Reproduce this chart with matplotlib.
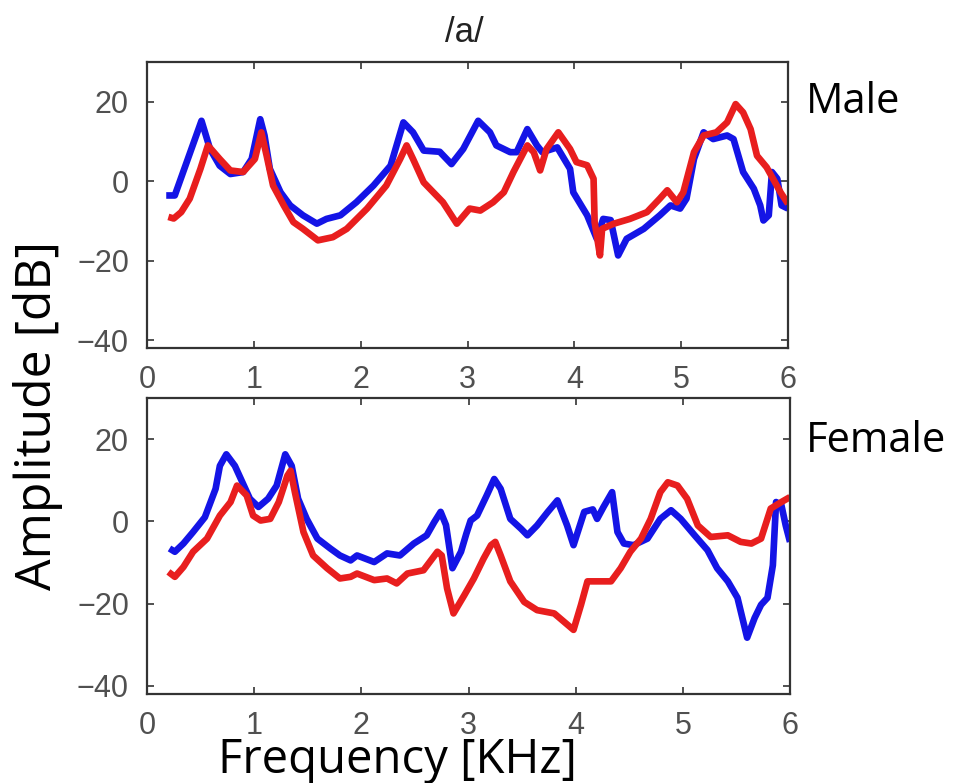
import matplotlib
matplotlib.use("Agg")
import matplotlib.pyplot as plt

# ---- data ----
male_blue_f = [0.18, 0.26, 0.51, 0.59, 0.68, 0.78, 0.90, 0.98, 1.06, 1.10, 1.15, 1.25, 1.34, 1.46, 1.59,
               1.68, 1.81, 1.96, 2.12, 2.28, 2.40, 2.49, 2.59, 2.74, 2.85, 2.96, 3.10, 3.21, 3.27, 3.40,
               3.46, 3.56, 3.65, 3.70, 3.84, 3.96, 3.99, 4.12, 4.21, 4.27, 4.34, 4.41, 4.49, 4.65, 4.80,
               4.90, 4.99, 5.05, 5.12, 5.21, 5.30, 5.43, 5.49, 5.58, 5.68, 5.74, 5.77, 5.82, 5.85, 5.90,
               5.94, 6.00]
male_blue_a = [-3.6, -3.6, 15.2, 8.1, 3.9, 1.8, 2.3, 5.6, 15.6, 11.5, 3.1, -2.8, -6.1, -8.6, -10.7,
               -9.5, -8.6, -5.3, -1.1, 3.9, 14.8, 12.3, 7.7, 7.4, 4.3, 8.1, 15.2, 12.3, 9.0, 7.3,
               7.3, 13.1, 9.0, 7.3, 8.5, 3.1, -2.8, -8.6, -14.5, -9.5, -9.8, -18.7, -14.5, -12.0, -8.6,
               -6.1, -6.9, -4.4, 5.6, 12.3, 10.6, 11.5, 10.6, 2.3, -1.9, -6.1, -9.9, -8.6, 2.3, 0.6,
               -6.1, -6.9]

male_red_f = [0.20, 0.25, 0.32, 0.40, 0.50, 0.57, 0.68, 0.78, 0.90, 1.01, 1.07, 1.12, 1.18, 1.28, 1.37,
              1.46, 1.60, 1.74, 1.87, 2.06, 2.24, 2.37, 2.43, 2.49, 2.59, 2.68, 2.77, 2.90, 3.02, 3.12,
              3.24, 3.34, 3.43, 3.56, 3.62, 3.68, 3.74, 3.85, 3.96, 4.02, 4.12, 4.18, 4.19, 4.24, 4.26,
              4.37, 4.52, 4.68, 4.80, 4.87, 4.96, 5.02, 5.12, 5.21, 5.33, 5.43, 5.51, 5.58, 5.65, 5.71,
              5.80, 5.86, 5.93, 6.00]
male_red_a = [-9.0, -9.4, -7.8, -4.4, 3.1, 9.0, 5.6, 2.7, 2.3, 5.6, 12.3, 6.4, -1.1, -6.1, -10.3,
              -12.0, -14.9, -14.1, -12.0, -6.9, -1.1, 5.6, 9.0, 5.6, -0.3, -2.8, -5.3, -10.7, -6.9, -7.4,
              -5.3, -2.8, 2.3, 9.0, 7.3, 2.7, 8.1, 12.3, 8.1, 4.8, 4.0, 0.6, -10.3, -18.7, -12.0,
              -10.7, -9.5, -7.8, -4.4, -2.3, -5.3, -2.8, 7.3, 11.5, 12.3, 14.8, 19.4, 17.3, 13.1, 6.4,
              3.5, 0.6, -2.8, -5.7]

female_blue_f = [0.21, 0.26, 0.34, 0.43, 0.54, 0.64, 0.68, 0.74, 0.82, 0.89, 0.96, 1.04, 1.13, 1.21, 1.29,
                 1.35, 1.41, 1.49, 1.59, 1.71, 1.80, 1.90, 1.96, 2.12, 2.24, 2.36, 2.49, 2.61, 2.68, 2.74,
                 2.79, 2.85, 2.93, 2.98, 3.02, 3.08, 3.17, 3.24, 3.30, 3.39, 3.49, 3.55, 3.64, 3.74, 3.83,
                 3.92, 3.98, 4.08, 4.16, 4.20, 4.26, 4.34, 4.39, 4.45, 4.54, 4.67, 4.79, 4.89, 4.98, 5.11,
                 5.23, 5.32, 5.42, 5.51, 5.60, 5.67, 5.73, 5.79, 5.84, 5.87, 5.92, 5.96, 6.00]
female_blue_a = [-6.6, -7.4, -5.4, -2.6, 1.0, 7.9, 13.5, 16.3, 13.5, 9.5, 5.5, 3.5, 5.5, 8.7, 16.3,
                 13.5, 5.5, 0.6, -4.2, -6.6, -8.3, -9.5, -8.3, -9.9, -7.8, -8.3, -5.4, -3.4, -0.2, 2.3,
                 -0.9, -11.4, -7.4, -3.0, 0.2, 1.4, 6.3, 10.3, 7.9, 0.6, -1.8, -3.4, -1.0, 2.3, 5.1,
                 -1.0, -5.8, 2.3, 2.9, 0.6, 3.5, 7.1, -2.6, -5.4, -5.8, -4.2, 0.6, 2.7, 0.6, -3.4,
                 -7.0, -11.4, -14.6, -18.6, -28.3, -23.5, -20.3, -18.6, -10.7, 4.7, 3.9, -1.0, -5.0]

female_red_f = [0.20, 0.26, 0.34, 0.43, 0.56, 0.68, 0.78, 0.84, 0.93, 0.99, 1.06, 1.15, 1.23, 1.31, 1.34,
                1.38, 1.46, 1.55, 1.68, 1.80, 1.90, 1.96, 2.12, 2.24, 2.33, 2.43, 2.58, 2.71, 2.75, 2.80,
                2.86, 2.96, 3.05, 3.14, 3.21, 3.25, 3.30, 3.39, 3.52, 3.64, 3.80, 3.89, 3.98, 4.05, 4.11,
                4.23, 4.33, 4.42, 4.51, 4.61, 4.70, 4.79, 4.86, 4.95, 5.04, 5.14, 5.26, 5.42, 5.54, 5.64,
                5.73, 5.82, 5.92, 6.00]
female_red_a = [-12.3, -13.5, -11.1, -7.4, -4.2, 1.4, 4.7, 8.7, 6.3, 1.4, 0.2, 0.6, 4.7, 11.1, 12.3,
                7.1, -2.6, -8.3, -11.4, -13.9, -13.5, -12.7, -14.3, -13.9, -15.1, -12.7, -11.9, -7.4, -8.3, -16.3,
                -22.4, -18.0, -13.9, -9.1, -5.8, -5.0, -8.3, -14.6, -19.6, -21.6, -22.4, -24.4, -26.4, -20.3, -14.6,
                -14.6, -14.6, -11.4, -7.4, -4.2, 0.6, 7.1, 9.5, 8.7, 5.5, -1.0, -3.8, -3.4, -5.0, -5.4,
                -4.2, 3.1, 4.7, 5.9]

x_ticks = [0, 1, 2, 3, 4, 5, 6]
y_ticks = [-40, -20, 0, 20]
title_text = "/a/"
panel_labels = ["Male", "Female"]

BLUE = "#1414e6"
RED = "#e81e1e"
TICK_FONT = ["Liberation Sans", "DejaVu Sans"]
LABEL_FONT = ["Open Sans", "DejaVu Sans"]

fig = plt.figure(figsize=(9.61, 7.83), dpi=100)
fig.patch.set_facecolor("white")

ax1 = fig.add_axes([147/961, 1 - 348/783, (788-147)/961, (348-62)/783])
ax2 = fig.add_axes([147/961, 1 - 694/783, (790-147)/961, (694-398)/783])

series = [(ax1, male_blue_f, male_blue_a, male_red_f, male_red_a),
          (ax2, female_blue_f, female_blue_a, female_red_f, female_red_a)]

for ax, bf, ba, rf, ra in series:
    ax.plot(bf, ba, color=BLUE, lw=4.8, solid_joinstyle="round", solid_capstyle="butt")
    ax.plot(rf, ra, color=RED, lw=4.8, solid_joinstyle="round", solid_capstyle="butt")
    ax.set_xlim(0, 6)
    ax.set_ylim(-42, 30)
    ax.set_xticks(x_ticks)
    ax.set_yticks(y_ticks)
    ax.set_xticklabels([str(t) for t in x_ticks], family=TICK_FONT, fontsize=22, color="#505050")
    ax.set_yticklabels([("\u2212" + str(-t)) if t < 0 else str(t) for t in y_ticks],
                       family=TICK_FONT, fontsize=22, color="#505050")
    ax.tick_params(direction="in", length=5, width=1.2, top=True, right=True, color="#333333")
    ax.tick_params(axis="x", pad=12)
    ax.tick_params(axis="y", pad=13)
    for s in ax.spines.values():
        s.set_linewidth(1.6)
        s.set_color("#333333")

fig.text(464/961, 1 - 42/783, title_text, ha="center", va="baseline",
         family=TICK_FONT, fontsize=25, color="#222222")
fig.text(806/961, 1 - 113/783, panel_labels[0], ha="left", va="baseline",
         family=LABEL_FONT, fontsize=30, color="black")
fig.text(806/961, 1 - 452/783, panel_labels[1], ha="left", va="baseline",
         family=LABEL_FONT, fontsize=30, color="black")
fig.text(38/961, 1 - 416/783, "Amplitude [dB]", ha="center", va="center", rotation=90,
         family=LABEL_FONT, fontsize=36, color="black")
fig.text(397/961, 1 - 773/783, "Frequency [KHz]", ha="center", va="baseline",
         family=LABEL_FONT, fontsize=34, color="black")

fig.savefig("out.png", dpi=100, facecolor="white")
